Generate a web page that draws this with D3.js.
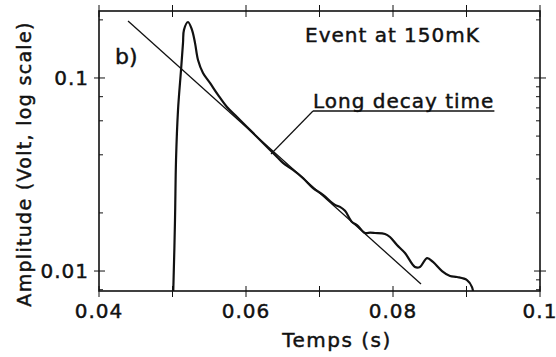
<!DOCTYPE html>
<html>
<head>
<meta charset="utf-8">
<script src="https://cdn.jsdelivr.net/npm/d3@7"></script>
<style>
  body { margin: 0; background: #fff; }
  text { font-family: "DejaVu Sans", sans-serif; fill: #111; stroke: #111; stroke-width: 0.45px; }
</style>
</head>
<body>
<div id="chart"></div>
<script>
// time axis (s) and log amplitude axis (V)
var xDomain = [0.04, 0.1];
var yDomain = [0.00788, 0.2223];
var xTicks = [0.04, 0.05, 0.06, 0.07, 0.08, 0.09, 0.1];
var xLabels = [0.04, 0.06, 0.08, 0.1];
var yLabels = [0.01, 0.1];
var yMinorLeft = [0.008, 0.02, 0.04, 0.06, 0.08, 0.2];
var yMinorRight = [0.008, 0.009, 0.02, 0.03, 0.04, 0.05, 0.06, 0.07, 0.08, 0.09, 0.2];

var sigT = [0.0500, 0.0501, 0.05034, 0.05048, 0.05075, 0.05116, 0.05143, 0.05156, 0.05211,
  0.05265, 0.05306, 0.05347, 0.05415, 0.0551, 0.05619, 0.05741, 0.05878, 0.06014, 0.0615,
  0.06327, 0.06422, 0.06503, 0.06639, 0.06776, 0.06912, 0.07048, 0.07211, 0.07279, 0.07347,
  0.07442, 0.0751, 0.07619, 0.0769, 0.07755, 0.07891, 0.07959, 0.08054, 0.08163, 0.08299,
  0.08367, 0.08463, 0.08544, 0.08667, 0.08776, 0.08871, 0.09007, 0.09075, 0.091];
var sigA = [0.0063, 0.00778, 0.01837, 0.0376, 0.0682, 0.110, 0.152, 0.1775, 0.195,
  0.1775, 0.152, 0.124, 0.1062, 0.0942, 0.0817, 0.0707, 0.0628, 0.0557, 0.0495,
  0.0424, 0.0390, 0.0363, 0.0334, 0.0303, 0.0269, 0.0248, 0.0220, 0.0215, 0.0205,
  0.01795, 0.0173, 0.01574, 0.0158, 0.01574, 0.01556, 0.0150, 0.01364, 0.0124, 0.0105,
  0.0105, 0.01167, 0.01114, 0.0100, 0.00942, 0.00931, 0.00898, 0.00826, 0.0072];

// exponential fit (straight on log scale)
var fitT = [0.04395, 0.08381];
var fitA = [0.1973, 0.00857];

var W = 556, H = 357;
var margin = {top: 11, right: 16, bottom: 66, left: 99};
var width = W - margin.left - margin.right,
    height = H - margin.top - margin.bottom;

var svg = d3.select("#chart").append("svg")
    .attr("width", W)
    .attr("height", H);
var g = svg.append("g")
    .attr("transform", "translate(" + margin.left + "," + margin.top + ")");

var x = d3.scaleLinear().domain(xDomain).range([0, width]);
var y = d3.scaleLog().domain(yDomain).range([height, 0]);

svg.append("defs").append("clipPath").attr("id", "plot")
  .append("rect").attr("width", width).attr("height", height);

// frame
g.append("rect")
    .attr("width", width).attr("height", height)
    .attr("fill", "none").attr("stroke", "#111").attr("stroke-width", 1.6);

// x ticks, crossing top and bottom
xTicks.forEach(function(t) {
  g.append("line").attr("x1", x(t)).attr("x2", x(t)).attr("y1", -6).attr("y2", 6)
    .attr("stroke", "#111");
  g.append("line").attr("x1", x(t)).attr("x2", x(t)).attr("y1", height - 5).attr("y2", height + 6)
    .attr("stroke", "#111");
});
g.selectAll(".xlab").data(xLabels).enter().append("text")
    .attr("x", function(d) { return x(d); })
    .attr("y", height + 27)
    .attr("text-anchor", "middle")
    .attr("font-size", "20px")
    .attr("letter-spacing", "1px")
    .text(function(d) { return String(d); });

// y ticks
yLabels.forEach(function(v) {
  g.append("line").attr("x1", -5).attr("x2", 6).attr("y1", y(v)).attr("y2", y(v)).attr("stroke", "#111");
  g.append("line").attr("x1", width - 6).attr("x2", width + 6).attr("y1", y(v)).attr("y2", y(v)).attr("stroke", "#111");
});
yMinorLeft.forEach(function(v) {
  g.append("line").attr("x1", 0).attr("x2", 4).attr("y1", y(v)).attr("y2", y(v)).attr("stroke", "#111");
});
yMinorRight.forEach(function(v) {
  g.append("line").attr("x1", width - 4).attr("x2", width).attr("y1", y(v)).attr("y2", y(v)).attr("stroke", "#111");
});
g.selectAll(".ylab").data(yLabels).enter().append("text")
    .attr("x", -10)
    .attr("y", function(d) { return y(d); })
    .attr("dy", "0.36em")
    .attr("text-anchor", "end")
    .attr("font-size", "20px")
    .attr("letter-spacing", "1px")
    .text(function(d) { return String(d); });

// axis titles
svg.append("text")
    .attr("x", 337).attr("y", 347)
    .attr("text-anchor", "middle")
    .attr("font-size", "20px")
    .attr("letter-spacing", "1.5px")
    .text("Temps (s)");
svg.append("text")
    .attr("transform", "translate(31,164) rotate(-90)")
    .attr("text-anchor", "middle")
    .attr("font-size", "19px")
    .attr("letter-spacing", "1.3px")
    .text("Amplitude (Volt, log scale)");

var line = d3.line()
    .x(function(d) { return x(d[0]); })
    .y(function(d) { return y(d[1]); });

var plot = g.append("g").attr("clip-path", "url(#plot)");

// fit line
plot.append("path")
    .datum(d3.zip(fitT, fitA))
    .attr("d", line)
    .attr("fill", "none").attr("stroke", "#111").attr("stroke-width", 1.3);

// signal
plot.append("path")
    .datum(d3.zip(sigT, sigA))
    .attr("d", line.curve(d3.curveCatmullRom))
    .attr("fill", "none").attr("stroke", "#111").attr("stroke-width", 2.2)
    .attr("stroke-linejoin", "round");

// annotations
g.append("text")
    .attr("x", 16).attr("y", 53)
    .attr("font-size", "22px")
    .text("b)");
g.append("text")
    .attr("x", 206).attr("y", 31)
    .attr("font-size", "20px")
    .attr("letter-spacing", "1px")
    .text("Event at 150mK");

var ann = g.append("text")
    .attr("x", 214).attr("y", 97)
    .attr("font-size", "20px")
    .attr("letter-spacing", "1px")
    .text("Long decay time");
var bb = ann.node().getBBox();
g.append("line")
    .attr("x1", 214).attr("x2", bb.x + bb.width)
    .attr("y1", 100).attr("y2", 100)
    .attr("stroke", "#111").attr("stroke-width", 1.6);
g.append("line")
    .attr("x1", 214).attr("y1", 100)
    .attr("x2", x(0.0634)).attr("y2", y(0.0404))
    .attr("stroke", "#111").attr("stroke-width", 1.2);
</script>
</body>
</html>
